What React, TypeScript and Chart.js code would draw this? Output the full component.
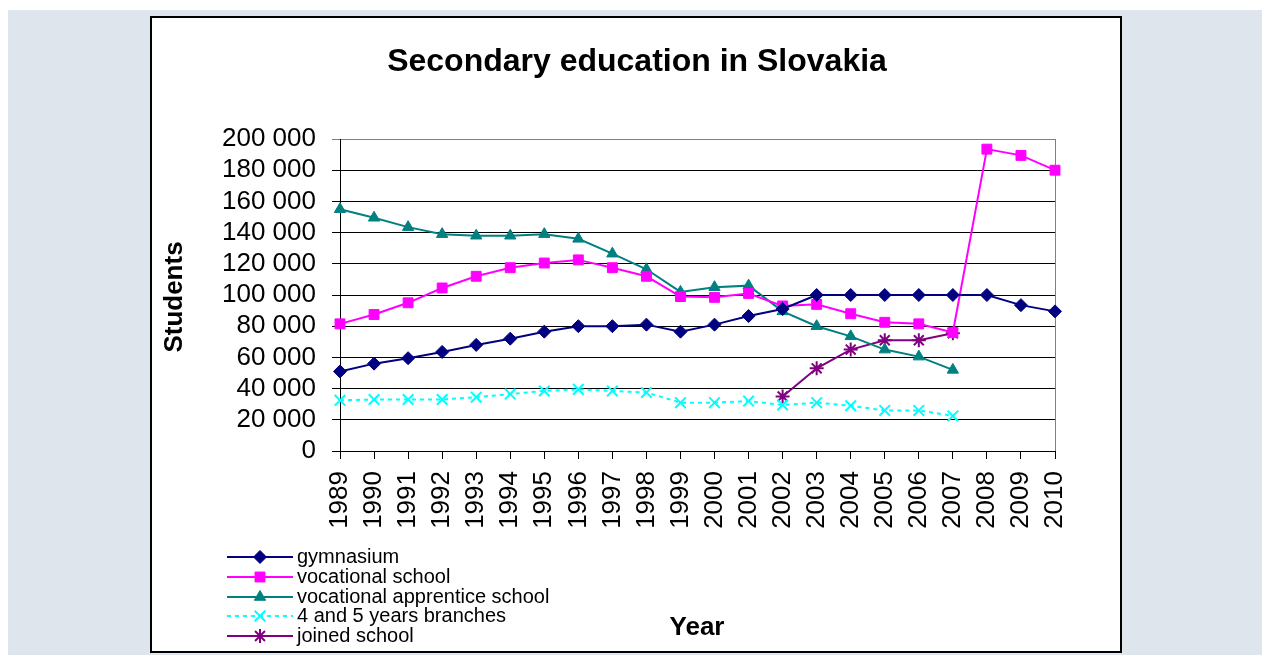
import React, { useEffect, useRef } from 'react';
import { Chart, registerables } from 'chart.js';
import { drawPoint } from 'chart.js/helpers';

Chart.register(...registerables);

const years = ['1989', '1990', '1991', '1992', '1993', '1994', '1995', '1996', '1997', '1998', '1999', '2000', '2001', '2002', '2003', '2004', '2005', '2006', '2007', '2008', '2009', '2010'];

const gymnasium = [51000, 56000, 59500, 63500, 68000, 72000, 76500, 80000, 80000, 81000, 76500, 81000, 86500, 91000, 100000, 100000, 100000, 100000, 100000, 100000, 93500, 89500];
const vocationalSchool = [81500, 87500, 95000, 104500, 112000, 117500, 120500, 122500, 117500, 112000, 99000, 98500, 101000, 93000, 94000, 88000, 82500, 81500, 76000, 193500, 189500, 180000];
const apprenticeSchool = [155000, 149500, 143500, 139000, 138000, 138000, 139000, 136000, 126500, 116500, 102000, 105000, 106000, 89500, 80000, 73500, 65000, 60500, 52000, null, null, null];
const branches45 = [32500, 33000, 33000, 33000, 34500, 36500, 38500, 39500, 38500, 37500, 31000, 31000, 32000, 29500, 31000, 29000, 26000, 26000, 22500, null, null, null];
const joinedSchool = [null, null, null, null, null, null, null, null, null, null, null, null, null, 35000, 53000, 65000, 71000, 71000, 75500, null, null, null];

const seriesNames = ['gymnasium', 'vocational school', 'vocational apprentice school', '4 and 5 years branches', 'joined school'];
const chartTitle = 'Secondary education in Slovakia';
const yTitle = 'Students';
const xTitle = 'Year';
const yMin = 0;
const yMax = 200000;
const yStep = 20000;

const FONT = '"Liberation Sans", Arial, sans-serif';

const fmt = (v: number) => String(v).replace(/\B(?=(\d{3})+(?!\d))/g, ' ');

export default function App() {
  const ref = useRef<HTMLCanvasElement | null>(null);

  useEffect(() => {
    const canvas = ref.current;
    if (!canvas) return;

    const decor = {
      id: 'decor',
      beforeDraw(chart: any) {
        const ctx = chart.ctx;
        ctx.save();
        ctx.fillStyle = '#ffffff';
        ctx.fillRect(0, 0, 1262, 655);
        ctx.fillStyle = '#dee5ec';
        ctx.fillRect(8, 10, 1254, 645);
        ctx.fillStyle = '#ffffff';
        ctx.fillRect(151, 17, 970, 635);
        ctx.strokeStyle = '#000000';
        ctx.lineWidth = 2;
        ctx.strokeRect(151, 17, 970, 635);
        ctx.restore();
      },
      beforeDatasetsDraw(chart: any) {
        const ctx = chart.ctx;
        const a = chart.chartArea;
        ctx.save();
        ctx.strokeStyle = '#808080';
        ctx.lineWidth = 1;
        ctx.beginPath();
        ctx.moveTo(Math.round(a.right) + 0.5, a.top);
        ctx.lineTo(Math.round(a.right) + 0.5, a.bottom);
        ctx.stroke();
        ctx.restore();
      },
      afterDraw(chart: any) {
        const ctx = chart.ctx;
        ctx.save();
        ctx.fillStyle = '#000000';
        ctx.textAlign = 'center';
        ctx.textBaseline = 'middle';
        ctx.font = `bold 32px ${FONT}`;
        ctx.fillText(chartTitle, 637, 62);

        ctx.font = `bold 26px ${FONT}`;
        ctx.fillText(xTitle, 697, 628);

        ctx.save();
        ctx.translate(175, 297);
        ctx.rotate(-Math.PI / 2);
        ctx.fillText(yTitle, 0, 0);
        ctx.restore();

        // legend
        const rows = [557, 577, 597, 616, 636];
        chart.data.datasets.forEach((ds: any, i: number) => {
          const y = rows[i];
          ctx.save();
          ctx.strokeStyle = ds.borderColor;
          ctx.lineWidth = 2;
          ctx.setLineDash(ds.borderDash || []);
          ctx.beginPath();
          ctx.moveTo(227, y);
          ctx.lineTo(293, y);
          ctx.stroke();
          ctx.setLineDash([]);
          ctx.fillStyle = ds.pointBackgroundColor;
          ctx.strokeStyle = ds.pointBorderColor;
          ctx.lineWidth = ds.pointBorderWidth;
          drawPoint(ctx, { pointStyle: ds.pointStyle, radius: ds.pointRadius, rotation: 0, borderWidth: ds.pointBorderWidth }, 260, y);
          ctx.restore();
          ctx.fillStyle = '#000000';
          ctx.textAlign = 'left';
          ctx.textBaseline = 'middle';
          ctx.font = `20px ${FONT}`;
          ctx.fillText(ds.label, 297, y);
        });
        ctx.restore();
      },
    };

    const mk = (label: string, data: (number | null)[], color: string, style: string, radius: number, bw: number, dash?: number[]) => ({
      label,
      data,
      borderColor: color,
      backgroundColor: color,
      pointBackgroundColor: color,
      pointBorderColor: color,
      pointStyle: style,
      pointRadius: radius,
      pointBorderWidth: bw,
      borderWidth: 2,
      borderDash: dash || [],
      tension: 0,
      spanGaps: false,
    });

    const chart = new Chart(canvas, {
      type: 'line',
      data: {
        labels: years,
        datasets: [
          mk(seriesNames[0], gymnasium, '#000080', 'rectRot', 6.5, 1),
          mk(seriesNames[1], vocationalSchool, '#ff00ff', 'rect', 7, 1),
          mk(seriesNames[2], apprenticeSchool, '#008080', 'triangle', 6.5, 1),
          mk(seriesNames[3], branches45, '#00ffff', 'crossRot', 7.5, 2, [4, 4]),
          mk(seriesNames[4], joinedSchool, '#800080', 'star', 7, 2),
        ] as any,
      },
      options: {
        responsive: false,
        maintainAspectRatio: false,
        animation: false,
        devicePixelRatio: 1,
        layout: { padding: { left: 0, right: 207, top: 139, bottom: 0 } },
        plugins: {
          legend: { display: false },
          title: { display: false },
          tooltip: { enabled: false },
        },
        scales: {
          x: {
            offset: false,
            grid: { drawOnChartArea: false, drawTicks: true, tickLength: 8, color: '#000000' },
            border: { color: '#000000', width: 1 },
            ticks: {
              autoSkip: false,
              maxRotation: 90,
              minRotation: 90,
              padding: 12,
              color: '#000000',
              font: { family: FONT, size: 26 },
            },
            afterFit(scale: any) {
              scale.height = 204;
            },
          },
          y: {
            min: yMin,
            max: yMax,
            grid: {
              color: (c: any) => (c.tick && c.tick.value === yMax ? '#808080' : '#000000'),
              tickLength: 8,
            },
            border: { color: '#000000', width: 1 },
            ticks: {
              autoSkip: false,
              stepSize: yStep,
              padding: 16,
              color: '#000000',
              font: { family: FONT, size: 26 },
              callback: (v: any) => fmt(Number(v)),
            },
            afterFit(scale: any) {
              scale.width = 340;
            },
          },
        },
      } as any,
      plugins: [decor],
    });

    return () => chart.destroy();
  }, []);

  return (
    <canvas
      ref={ref}
      width={1262}
      height={655}
      style={{ position: 'fixed', left: 0, top: 0, width: '1262px', height: '655px' }}
    />
  );
}
